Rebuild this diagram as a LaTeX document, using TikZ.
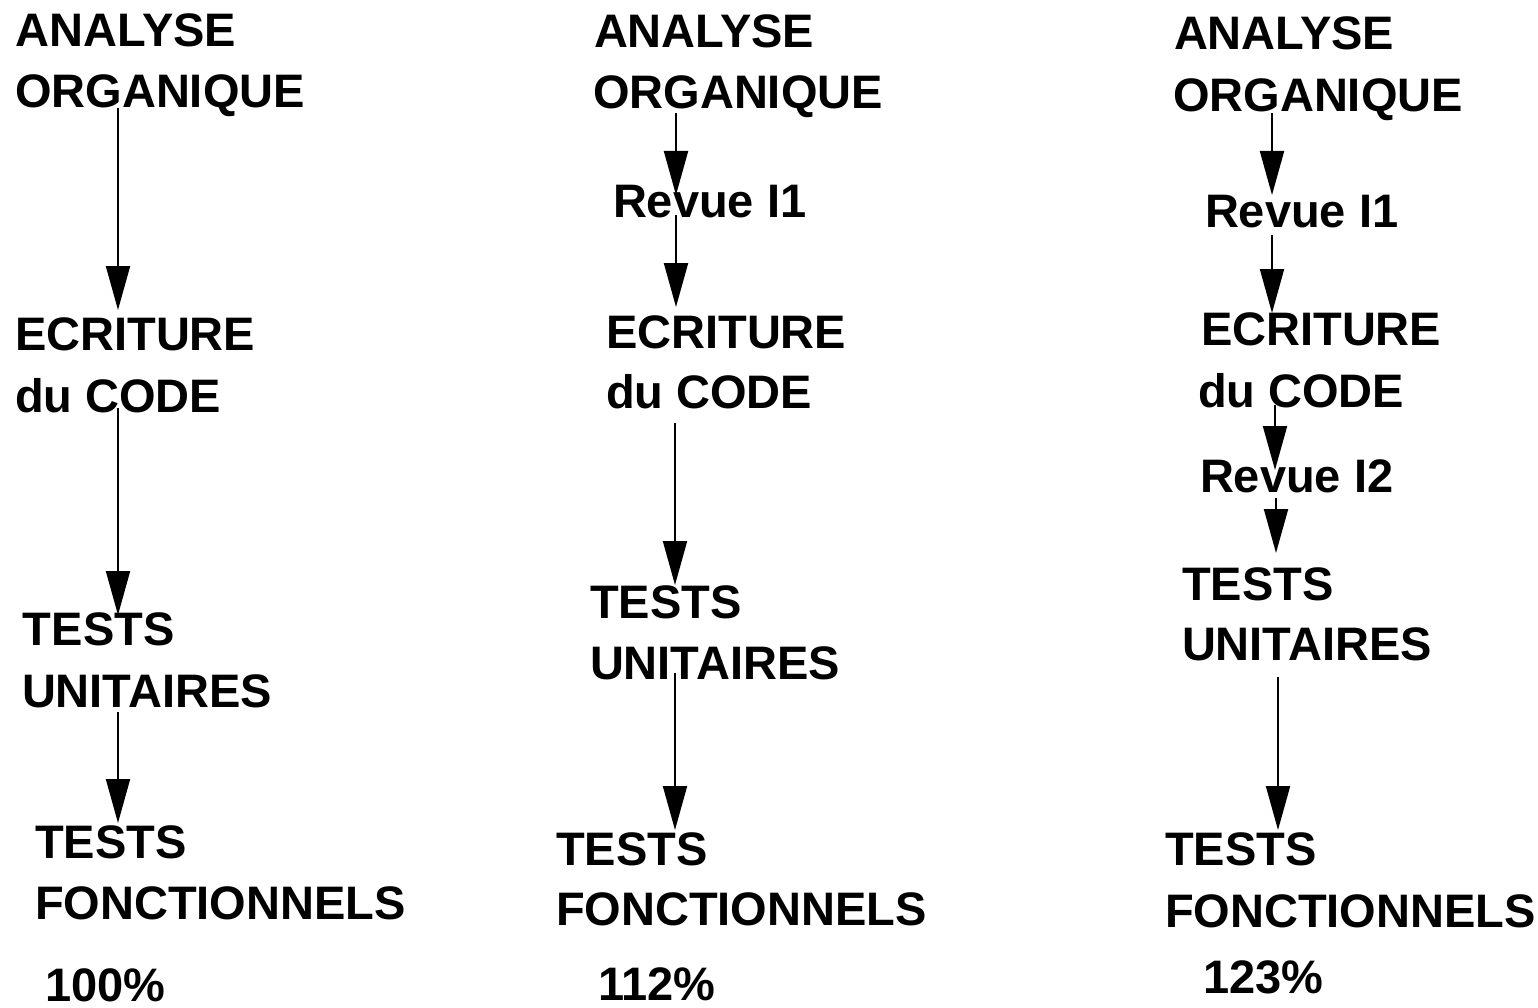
\documentclass[tikz,border=0pt]{standalone}
\usepackage{fontspec}
\setmainfont{Liberation Sans}
\usetikzlibrary{arrows.meta}
\begin{document}
\begin{tikzpicture}[x=1pt,y=-1pt,
  lbl/.style={anchor=base west,inner sep=0pt,outer sep=0pt,font=\fontsize{47}{56}\selectfont\bfseries},
  flow/.style={line width=2pt,-{Triangle[length=44pt,width=24pt]}}]
\useasboundingbox (0,0) rectangle (1538,1008);
% ---------- column 1 ----------
\node[lbl] (a1a) at (16,47) {ANALYSE};
\node[lbl] (a1b) at (15,108) {ORGANIQUE};
\node[lbl] (e1a) at (15,350) {ECRITURE};
\node[lbl] (e1b) at (15,412) {du CODE};
\node[lbl] (u1a) at (23,645) {TESTS};
\node[lbl] (u1b) at (22,707) {UNITAIRES};
\node[lbl] (f1a) at (35,858) {TESTS};
\node[lbl] (f1b) at (35,919) {FONCTIONNELS};
\node[lbl] (p1) at (45,1001) {100\%};
\coordinate (s11) at (118,108); \coordinate (t11) at (118,310);
\coordinate (s12) at (118,408); \coordinate (t12) at (118,615);
\coordinate (s13) at (118,712); \coordinate (t13) at (118,823);
\draw[flow] (s11) -- (t11);
\draw[flow] (s12) -- (t12);
\draw[flow] (s13) -- (t13);
% ---------- column 2 ----------
\node[lbl] (a2a) at (594,48) {ANALYSE};
\node[lbl] (a2b) at (593,109) {ORGANIQUE};
\node[lbl] (r21) at (613,218) {Revue I1};
\node[lbl] (e2a) at (606,348) {ECRITURE};
\node[lbl] (e2b) at (606,408) {du CODE};
\node[lbl] (u2a) at (590,618) {TESTS};
\node[lbl] (u2b) at (590,679) {UNITAIRES};
\node[lbl] (f2a) at (556,865) {TESTS};
\node[lbl] (f2b) at (556,925) {FONCTIONNELS};
\node[lbl] (p2) at (598,1000) {112\%};
\coordinate (s21) at (676,113); \coordinate (t21) at (676,195);
\coordinate (s22) at (676,215); \coordinate (t22) at (676,307);
\coordinate (s23) at (675,423); \coordinate (t23) at (675,585);
\coordinate (s24) at (675,673); \coordinate (t24) at (675,830);
\draw[flow] (s21) -- (t21);
\draw[flow] (s22) -- (t22);
\draw[flow] (s23) -- (t23);
\draw[flow] (s24) -- (t24);
% ---------- column 3 ----------
\node[lbl] (a3a) at (1174,50) {ANALYSE};
\node[lbl] (a3b) at (1173,112) {ORGANIQUE};
\node[lbl] (r31) at (1205,228) {Revue I1};
\node[lbl] (e3a) at (1201,345) {ECRITURE};
\node[lbl] (e3b) at (1198,407) {du CODE};
\node[lbl] (r32) at (1200,492) {Revue I2};
\node[lbl] (u3a) at (1182,600) {TESTS};
\node[lbl] (u3b) at (1182,660) {UNITAIRES};
\node[lbl] (f3a) at (1165,865) {TESTS};
\node[lbl] (f3b) at (1165,927) {FONCTIONNELS};
\node[lbl] (p3) at (1203,993) {123\%};
\coordinate (s31) at (1272,113); \coordinate (t31) at (1272,195);
\coordinate (s32) at (1272,235); \coordinate (t32) at (1272,313);
\coordinate (s33) at (1275,405); \coordinate (t33) at (1275,470);
\coordinate (s34) at (1276,498); \coordinate (t34) at (1276,553);
\coordinate (s35) at (1278,677); \coordinate (t35) at (1278,830);
\draw[flow] (s31) -- (t31);
\draw[flow] (s32) -- (t32);
\draw[flow] (s33) -- (t33);
\draw[flow] (s34) -- (t34);
\draw[flow] (s35) -- (t35);
\end{tikzpicture}
\end{document}
